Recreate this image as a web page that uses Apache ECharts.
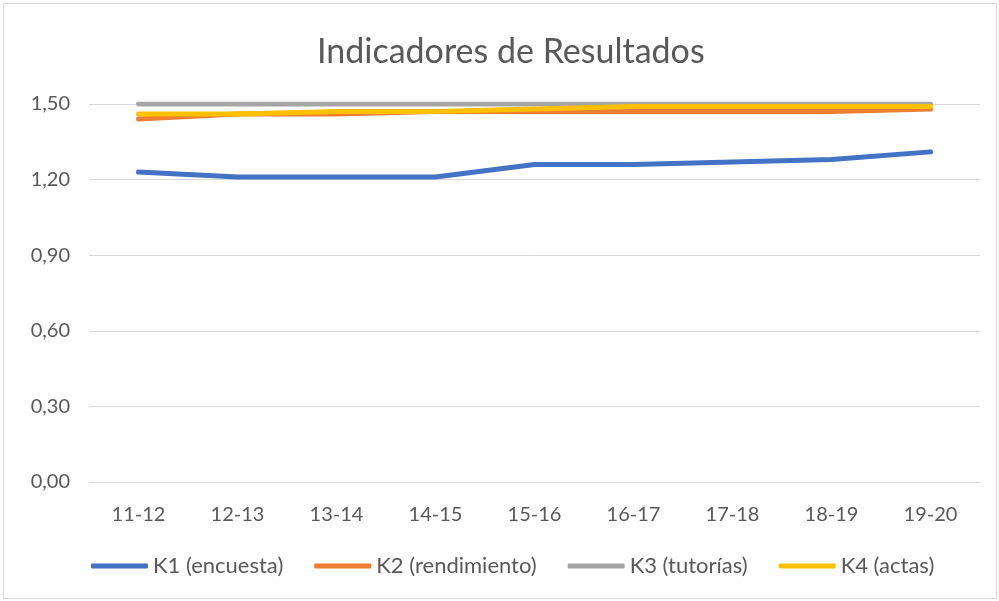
<!DOCTYPE html>
<html>
  <head>
    <meta charset="utf-8" />
    <title>Indicadores de Resultados</title>
    <script src="https://cdn.jsdelivr.net/npm/echarts@6.0.0/dist/echarts.min.js"></script>
    <style>
      html, body { margin: 0; padding: 0; background: #fff; }
      #chart { position: absolute; left: 3px; top: 3px; width: 994px; height: 596px;
                border: 1px solid #d9d9d9; box-sizing: border-box; }
    </style>
  </head>
  <body>
    <div id="chart"></div>
    <script type="text/javascript">
      // datos
      var cursos = ['11-12', '12-13', '13-14', '14-15', '15-16', '16-17', '17-18', '18-19', '19-20'];
      var k1 = [1.23, 1.21, 1.21, 1.21, 1.26, 1.26, 1.27, 1.28, 1.31];
      var k2 = [1.44, 1.46, 1.46, 1.47, 1.47, 1.47, 1.47, 1.47, 1.48];
      var k3 = [1.50, 1.50, 1.50, 1.50, 1.50, 1.50, 1.50, 1.50, 1.50];
      var k4 = [1.46, 1.46, 1.47, 1.47, 1.48, 1.49, 1.49, 1.49, 1.49];
      var nombres = ['K1 (encuesta)', 'K2 (rendimiento)', 'K3 (tutorías)', 'K4 (actas)'];
      var colores = ['#4472C4', '#ED7D31', '#A5A5A5', '#FFC000'];

      var chart = echarts.init(document.getElementById('chart'));
      var fuente = 'Lato, "Open Sans", sans-serif';

      function linea(nombre, datos, color) {
        return {
          name: nombre,
          type: 'line',
          data: datos,
          showSymbol: false,
          symbol: 'none',
          lineStyle: { width: 5, color: color, cap: 'round', join: 'round' },
          itemStyle: { color: color }
        };
      }

      var option = {
        animation: false,
        textStyle: { fontFamily: fuente },
        title: {
          text: 'Indicadores de Resultados',
          left: 308,
          top: 26,
          textStyle: { fontSize: 34, fontWeight: 'normal', color: '#595959', fontFamily: fuente }
        },
        grid: { left: 85, right: 16, top: 100, bottom: 116 },
        legend: {
          bottom: 16,
          left: 82,
          icon: 'roundRect',
          itemWidth: 57,
          itemHeight: 5,
          itemGap: 31,
          textStyle: { fontSize: 22, color: '#595959', fontFamily: fuente },
          data: nombres
        },
        xAxis: {
          type: 'category',
          data: cursos,
          boundaryGap: true,
          axisLine: { lineStyle: { color: '#d9d9d9', width: 1 } },
          axisTick: { show: false },
          axisLabel: { fontSize: 20, color: '#595959', margin: 23 }
        },
        yAxis: {
          type: 'value',
          min: 0,
          max: 1.5,
          interval: 0.3,
          axisLine: { show: false },
          axisTick: { show: false },
          splitLine: { lineStyle: { color: '#d9d9d9', width: 1 } },
          axisLabel: {
            fontSize: 20,
            color: '#595959',
            margin: 19,
            formatter: function (v) { return v.toFixed(2).replace('.', ','); }
          }
        },
        series: [
          linea(nombres[0], k1, colores[0]),
          linea(nombres[1], k2, colores[1]),
          linea(nombres[2], k3, colores[2]),
          linea(nombres[3], k4, colores[3])
        ]
      };
      chart.setOption(option);
    </script>
  </body>
</html>
